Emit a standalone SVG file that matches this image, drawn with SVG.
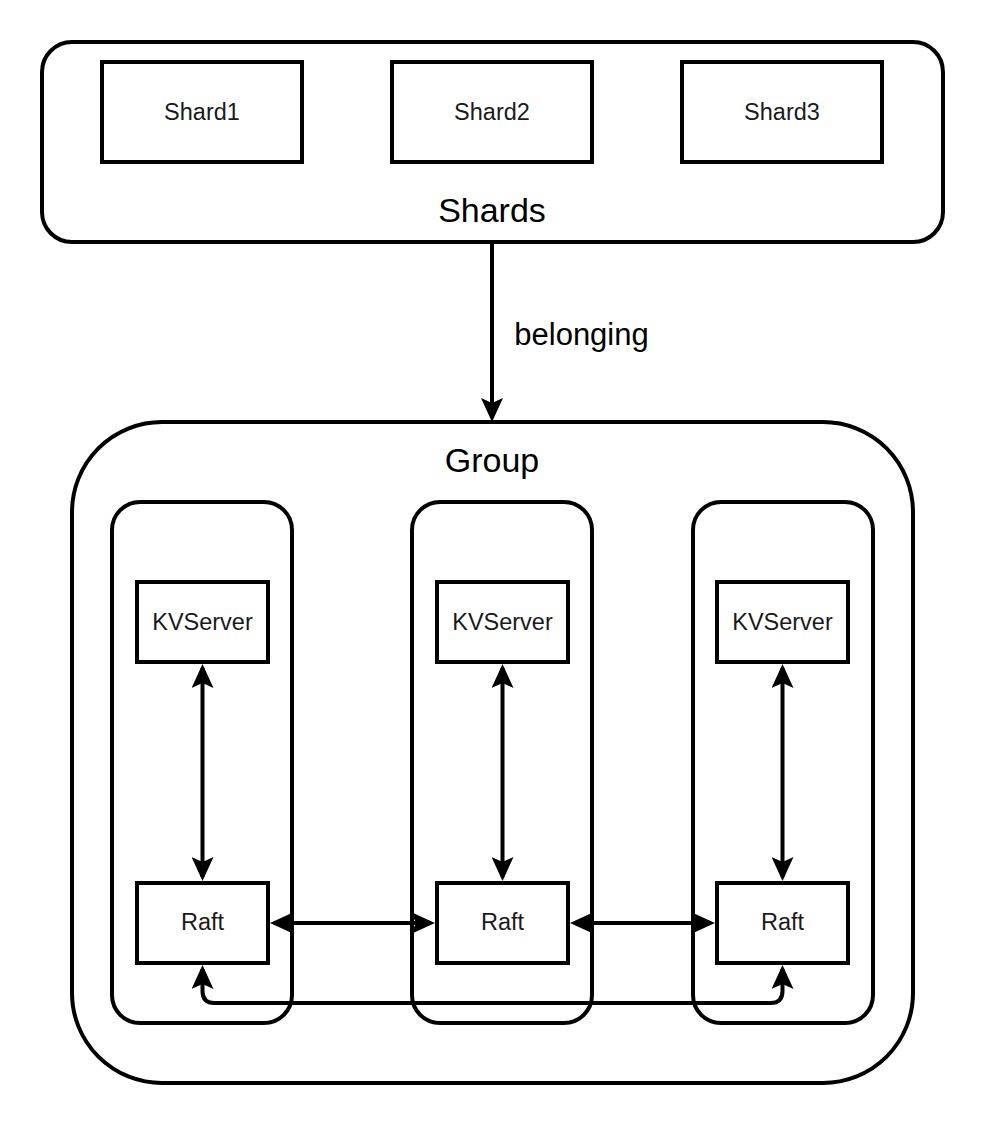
<svg xmlns="http://www.w3.org/2000/svg" width="984" height="1124" viewBox="0 0 984 1124">
<style>
.box{fill:#fff;stroke:#000;stroke-width:4}
.cont{fill:none;stroke:#000;stroke-width:4}
.t{font-family:"Liberation Sans",Arial,sans-serif;fill:#1a1a1a;text-anchor:middle}
.s{font-size:23.5px}
.l{font-size:34px;fill:#000}
.m{font-size:31px;fill:#000}
.c{fill:none;stroke:#000;stroke-width:4}
</style>
<defs>
<marker id="ah" markerUnits="userSpaceOnUse" markerWidth="24" markerHeight="22" viewBox="0 0 24 22" refX="20" refY="11" orient="auto-start-reverse">
<path d="M0,0 L24,11 L0,22 L5,11 Z" fill="#000"/>
</marker>
</defs>
<rect width="984" height="1124" fill="#fff"/>
<g id="shards">
<rect class="cont" x="42" y="42" width="901" height="200" rx="30"/>
<text class="t l" x="492" y="222">Shards</text>
</g>
<g id="shard1"><rect class="box" x="102" y="62" width="200" height="100"/><text class="t s" x="202" y="120">Shard1</text></g>
<g id="shard2"><rect class="box" x="392" y="62" width="200" height="100"/><text class="t s" x="492" y="120">Shard2</text></g>
<g id="shard3"><rect class="box" x="682" y="62" width="200" height="100"/><text class="t s" x="782" y="120">Shard3</text></g>
<g id="group">
<rect class="cont" x="72" y="422" width="841" height="661" rx="90"/>
<text class="t l" x="492" y="472">Group</text>
</g>
<g id="server1"><rect class="cont" x="112" y="502" width="180" height="521" rx="28"/></g>
<g id="server2"><rect class="cont" x="412" y="502" width="180" height="521" rx="28"/></g>
<g id="server3"><rect class="cont" x="693" y="502" width="180" height="521" rx="28"/></g>
<g id="kv1"><rect class="box" x="137" y="582" width="131" height="80"/><text class="t s" x="202.5" y="630">KVServer</text></g>
<g id="kv2"><rect class="box" x="437" y="582" width="131" height="80"/><text class="t s" x="502.5" y="630">KVServer</text></g>
<g id="kv3"><rect class="box" x="717" y="582" width="131" height="80"/><text class="t s" x="782.5" y="630">KVServer</text></g>
<g id="raft1"><rect class="box" x="137" y="883" width="131" height="80"/><text class="t s" x="202.5" y="930">Raft</text></g>
<g id="raft2"><rect class="box" x="437" y="883" width="131" height="80"/><text class="t s" x="502.5" y="930">Raft</text></g>
<g id="raft3"><rect class="box" x="717" y="883" width="131" height="80"/><text class="t s" x="782.5" y="930">Raft</text></g>
<g id="connectors">
<path class="c" d="M492,244 L492,418" marker-end="url(#ah)"/>
<text class="t m" x="581.5" y="345">belonging</text>
<path class="c" d="M202.5,668 L202.5,877" marker-start="url(#ah)" marker-end="url(#ah)"/>
<path class="c" d="M502.5,668 L502.5,877" marker-start="url(#ah)" marker-end="url(#ah)"/>
<path class="c" d="M782.5,668 L782.5,877" marker-start="url(#ah)" marker-end="url(#ah)"/>
<path class="c" d="M274,923 L431,923" marker-start="url(#ah)" marker-end="url(#ah)"/>
<path class="c" d="M574,923 L711,923" marker-start="url(#ah)" marker-end="url(#ah)"/>
<path class="c" d="M202.5,969 L202.5,991 Q202.5,1003 214.5,1003 L770.5,1003 Q782.5,1003 782.5,991 L782.5,969" marker-start="url(#ah)" marker-end="url(#ah)"/>
</g>
</svg>
